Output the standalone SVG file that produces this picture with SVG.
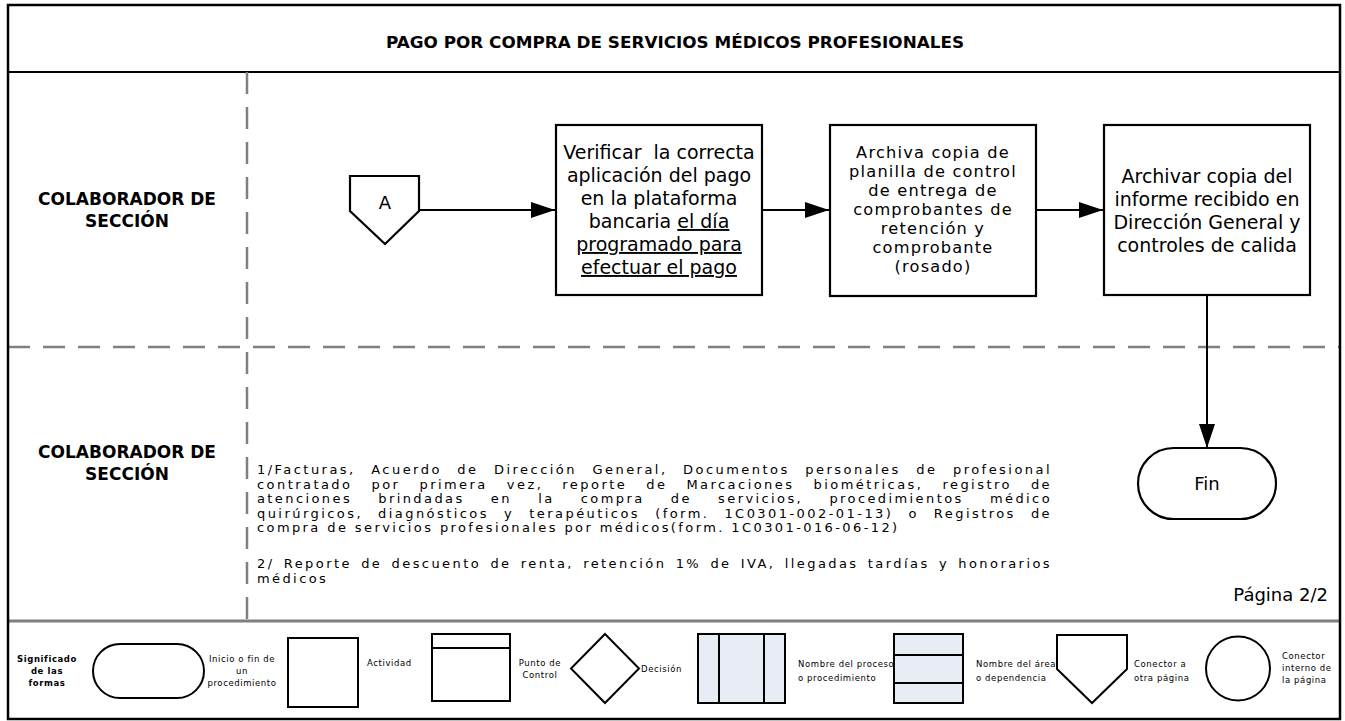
<svg xmlns="http://www.w3.org/2000/svg" width="1345" height="721" viewBox="0 0 1345 721">
<style>
text{font-family:"DejaVu Sans","Liberation Sans",sans-serif;fill:#000}
.lane{font-size:17px;font-weight:bold;text-anchor:middle}
.title{font-size:16.5px;font-weight:bold;text-anchor:middle}
.box{fill:#fff;stroke:#000;stroke-width:2.2}
.bt{font-size:19px;text-anchor:middle}
.bt2{font-size:16.2px;letter-spacing:1.2px;text-anchor:middle}
.note{font-size:13px;letter-spacing:2.4px}
.lg{font-size:8.5px;letter-spacing:0.6px}
.lgc{font-size:8.5px;letter-spacing:0.6px;text-anchor:middle}
.ls{fill:#fff;stroke:#000;stroke-width:2}
.lsf{fill:#e8ecf4;stroke:#000;stroke-width:2}
.dash{stroke:#7f7f7f;stroke-width:2.5;stroke-dasharray:22 13;fill:none}
.conn{stroke:#000;stroke-width:2;fill:none}
</style>
<defs>
<marker id="arr" viewBox="0 0 24 16" refX="24" refY="8" markerWidth="24" markerHeight="16" markerUnits="userSpaceOnUse" orient="auto">
<path d="M0,0 L24,8 L0,16 z" fill="#000"/>
</marker>
</defs>
<rect x="0" y="0" width="1345" height="721" fill="#fff"/>

<g id="frame">
<line x1="8" y1="72" x2="1340" y2="72" stroke="#000" stroke-width="2"/>
<line class="dash" x1="8" y1="347" x2="1340" y2="347"/>
<line class="dash" x1="247" y1="72" x2="247" y2="621"/>
<line x1="8" y1="621" x2="1340" y2="621" stroke="#7f7f7f" stroke-width="3"/>
<rect x="8" y="5" width="1332" height="714" fill="none" stroke="#000" stroke-width="2.5"/>
<text class="title" x="675" y="48" textLength="578" lengthAdjust="spacingAndGlyphs">PAGO POR COMPRA DE SERVICIOS MÉDICOS PROFESIONALES</text>
</g>

<g id="lane1">
<text class="lane" x="127" y="205">COLABORADOR DE</text>
<text class="lane" x="127" y="227">SECCIÓN</text>
</g>
<g id="lane2">
<text class="lane" x="127" y="458">COLABORADOR DE</text>
<text class="lane" x="127" y="480">SECCIÓN</text>
</g>

<g id="connectors">
<line class="conn" x1="419" y1="210" x2="555" y2="210" marker-end="url(#arr)"/>
<line class="conn" x1="763" y1="210" x2="829" y2="210" marker-end="url(#arr)"/>
<line class="conn" x1="1037" y1="210" x2="1103" y2="210" marker-end="url(#arr)"/>
<line class="conn" x1="1207" y1="296" x2="1207" y2="448" marker-end="url(#arr)"/>
</g>

<g id="connA">
<path class="box" d="M350,176 L419,176 L419,211 L385,244 L350,211 z"/>
<text x="385" y="209" font-size="18" text-anchor="middle">A</text>
</g>

<g id="act1">
<rect class="box" x="556" y="125" width="206" height="170"/>
<text class="bt" x="659" y="159" style="white-space:pre">Verificar  la correcta</text>
<text class="bt" x="659" y="182">aplicación del pago</text>
<text class="bt" x="659" y="205">en la plataforma</text>
<text class="bt" x="659" y="228">bancaria <tspan text-decoration="underline">el día</tspan></text>
<text class="bt" x="659" y="251" text-decoration="underline">programado para</text>
<text class="bt" x="659" y="274" text-decoration="underline">efectuar el pago</text>
</g>

<g id="act2">
<rect class="box" x="830" y="125" width="206" height="171"/>
<text class="bt2" x="933" y="158">Archiva copia de</text>
<text class="bt2" x="933" y="177">planilla de control</text>
<text class="bt2" x="933" y="196">de entrega de</text>
<text class="bt2" x="933" y="215">comprobantes de</text>
<text class="bt2" x="933" y="234">retención y</text>
<text class="bt2" x="933" y="253">comprobante</text>
<text class="bt2" x="933" y="272">(rosado)</text>
</g>

<g id="act3">
<rect class="box" x="1104" y="125" width="206" height="170"/>
<text class="bt" x="1207" y="183">Archivar copia del</text>
<text class="bt" x="1207" y="206">informe recibido en</text>
<text class="bt" x="1207" y="229">Dirección General y</text>
<text class="bt" x="1207" y="252">controles de calida</text>
</g>

<g id="fin">
<rect class="box" x="1138" y="448" width="138" height="71" rx="35.5" ry="35.5"/>
<text x="1207" y="490" font-size="18" text-anchor="middle">Fin</text>
</g>

<g id="notes">
<text class="note" x="257" y="474" word-spacing="8.9" textLength="795" lengthAdjust="spacing">1/Facturas, Acuerdo de Dirección General, Documentos personales de profesional</text>
<text class="note" x="257" y="488.5" word-spacing="12.5" textLength="795" lengthAdjust="spacing">contratado por primera vez, reporte de Marcaciones biométricas, registro de</text>
<text class="note" x="257" y="503" word-spacing="19.7" textLength="795" lengthAdjust="spacing">atenciones brindadas en la compra de servicios, procedimientos médico</text>
<text class="note" x="257" y="517.5" word-spacing="8.5" textLength="795" lengthAdjust="spacing">quirúrgicos, diagnósticos y terapéuticos (form. 1C0301-002-01-13) o Registros de</text>
<text class="note" x="257" y="532">compra de servicios profesionales por médicos(form. 1C0301-016-06-12)</text>
<text class="note" x="257" y="568" word-spacing="2.7" textLength="795" lengthAdjust="spacing">2/ Reporte de descuento de renta, retención 1% de IVA, llegadas tardías y honorarios</text>
<text class="note" x="257" y="583">médicos</text>
</g>

<g id="page">
<text x="1328" y="601" font-size="18" text-anchor="end">Página 2/2</text>
</g>

<g id="legend">
<text class="lgc" x="47" y="662" font-weight="bold">Significado</text>
<text class="lgc" x="47" y="674" font-weight="bold">de las</text>
<text class="lgc" x="47" y="686" font-weight="bold">formas</text>
<rect class="ls" x="93" y="644" width="111" height="54" rx="27" ry="27"/>
<text class="lgc" x="242" y="662">Inicio o fin de</text>
<text class="lgc" x="242" y="674">un</text>
<text class="lgc" x="242" y="686">procedimiento</text>
<rect class="ls" x="288" y="638" width="70" height="69"/>
<text class="lg" x="367" y="666">Actividad</text>
<rect class="ls" x="432" y="634" width="78" height="67"/>
<line x1="432" y1="648" x2="510" y2="648" stroke="#000" stroke-width="2"/>
<text class="lgc" x="540" y="666">Punto de</text>
<text class="lgc" x="540" y="678">Control</text>
<path class="ls" d="M605,634 L639,668.5 L605,703 L571,668.5 z"/>
<text class="lg" x="641" y="672">Decisión</text>
<text class="lg" x="798" y="667">Nombre del proceso</text>
<text class="lg" x="798" y="681">o procedimiento</text>
<rect class="lsf" x="698" y="634" width="87" height="69"/>
<line x1="719" y1="634" x2="719" y2="703" stroke="#000" stroke-width="2"/>
<line x1="764" y1="634" x2="764" y2="703" stroke="#000" stroke-width="2"/>
<rect class="lsf" x="894" y="634" width="69" height="69"/>
<line x1="894" y1="655" x2="963" y2="655" stroke="#000" stroke-width="2"/>
<line x1="894" y1="683" x2="963" y2="683" stroke="#000" stroke-width="2"/>
<text class="lg" x="976" y="667">Nombre del área</text>
<text class="lg" x="976" y="681">o dependencia</text>
<path class="ls" d="M1057,635 L1127,635 L1127,669 L1092,703 L1057,669 z"/>
<text class="lg" x="1134" y="667">Conector a</text>
<text class="lg" x="1134" y="681">otra página</text>
<circle class="ls" cx="1238" cy="668.5" r="32"/>
<text class="lg" x="1282" y="659">Conector</text>
<text class="lg" x="1282" y="671">interno de</text>
<text class="lg" x="1282" y="683">la página</text>
</g>
</svg>
